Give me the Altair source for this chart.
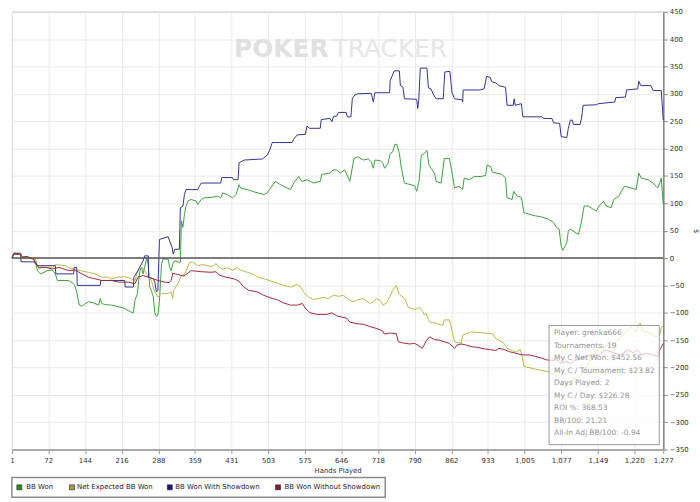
import altair as alt
import pandas as pd

# ---------------- data ----------------
x_ticks = [1, 72, 144, 216, 288, 359, 431, 503, 575, 646, 718, 790, 862, 933,
           1005, 1077, 1149, 1220, 1277]
y_ticks = list(range(-350, 451, 50))

series_names = ["BB Won", "Net Expected BB Won", "BB Won With Showdown",
                "BB Won Without Showdown"]
series_colors = ["#3f9f3f", "#b9b946", "#33338f", "#a3283f"]
legend_colors = ["#1f8f1f", "#a3a334", "#14147f", "#8b1a1a"]

green_hands = [1, 5, 18, 21, 31, 41, 47, 51, 57, 64, 70, 80, 86, 90, 112, 122, 124, 128, 133, 138,
               145, 151, 161, 171, 174, 177, 183, 196, 210, 222, 232, 239, 242, 247, 250, 252, 255,
               258, 261, 265, 268, 271, 274, 278, 281, 284, 287, 290, 292, 294, 297, 307, 310, 313,
               316, 320, 329, 331, 333, 336, 339, 342, 346, 352, 362, 365, 372, 378, 394, 404, 410,
               414, 423, 433, 440, 446, 449, 462, 475, 495, 501, 508, 517, 527, 540, 547, 553, 563,
               569, 579, 592, 605, 608, 624, 630, 637, 644, 653, 663, 667, 671, 679, 689, 699, 705,
               709, 712, 722, 728, 731, 738, 742, 747, 751, 755, 760, 764, 770, 790, 794, 799, 803,
               809, 814, 818, 822, 829, 832, 842, 848, 858, 864, 868, 877, 884, 887, 897, 907, 920,
               929, 932, 939, 942, 961, 968, 971, 981, 984, 991, 999, 1004, 1014, 1027, 1039, 1052,
               1062, 1068, 1073, 1077, 1080, 1088, 1091, 1095, 1104, 1111, 1117, 1122, 1130, 1140,
               1146, 1151, 1155, 1160, 1165, 1175, 1180, 1190, 1195, 1201, 1215, 1224, 1229, 1234,
               1247, 1257, 1263, 1266, 1270, 1273, 1277]
green_vals = [0, 9, 9, 1, 2, 0, -7, -23, -29, -26, -23, -22, -29, -41, -41, -47, -50, -62, -86, -88,
              -83, -80, -82, -86, -74, -83, -85, -86, -89, -92, -98, -100, -77, -65, -35, -23, -17,
              -29, -17, 1, -11, -53, -59, -71, -101, -107, -104, -77, -47, -11, -2, -2, -17, -23,
              -11, -5, -8, -8, 68, 56, 80, 95, 104, 107, 104, 98, 107, 110, 111, 113, 110,
              119, 116, 110, 116, 134, 128, 125, 121, 116, 119, 128, 140, 134, 128, 125, 137, 149,
              140, 143, 137, 140, 153, 155, 161, 161, 155, 161, 140, 161, 182, 185, 179, 181, 176,
              164, 179, 178, 173, 164, 173, 191, 194, 207, 208, 191, 164, 137, 132, 122, 143, 188,
              191, 197, 170, 164, 155, 140, 137, 182, 182, 152, 128, 131, 125, 146, 143, 149, 149,
              151, 170, 167, 157, 153, 146, 110, 107, 122, 113, 111, 83, 80, 77, 75, 71,
              65, 56, 53, 22, 14, 28, 49, 53, 47, 43, 68, 95, 95, 89,
              86, 95, 98, 104, 95, 92, 107, 113, 122, 131, 128, 125, 155, 146,
              143, 137, 131, 128, 137, 146, 98]

yellow_hands = [1, 5, 18, 21, 47, 51, 54, 60, 80, 86, 106, 112, 122, 135, 151, 164, 177, 190, 196,
                210, 222, 235, 242, 248, 255, 261, 268, 274, 281, 287, 294, 307, 313, 316, 318, 326,
                333, 339, 346, 349, 355, 365, 375, 385, 394, 401, 407, 414, 423, 433, 443, 449, 462,
                475, 482, 495, 508, 521, 534, 547, 560, 566, 572, 582, 592, 602, 611, 621, 631, 641,
                650, 663, 670, 679, 689, 702, 709, 715, 722, 728, 735, 741, 747, 754, 759, 767, 772,
                777, 783, 793, 799, 803, 806, 809, 812, 816, 819, 832, 845, 848, 858, 861, 864, 868,
                881, 884, 900, 936, 942, 949, 955, 965, 971, 981, 988, 997, 1000, 1004, 1026, 1052,
                1065, 1072, 1078, 1091, 1101, 1114, 1124, 1130, 1140, 1146, 1156, 1169, 1182, 1195,
                1205, 1214, 1224, 1228, 1232, 1236, 1253, 1263, 1270, 1273, 1277]
yellow_vals = [0, 7, 7, 0, -2, -14, -20, -17, -17, -12, -14, -17, -20, -23, -26, -29, -35, -35, -38,
               -35, -34, -38, -41, -23, -17, -22, -35, -41, -62, -71, -65, -65, -62, -74, -59, -47,
               -32, -30, -15, -8, -7, -14, -12, -14, -16, -10, -17, -20, -18, -22, -18, -22, -26,
               -30, -35, -38, -42, -46, -50, -53, -48, -52, -62, -71, -76, -74, -72, -74, -68, -70,
               -68, -77, -80, -76, -74, -83, -80, -74, -77, -86, -82, -71, -59, -50, -65, -71, -77,
               -89, -92, -94, -90, -95, -98, -104, -101, -110, -117, -119, -123, -113, -113, -123,
               -137, -153, -156, -141, -135, -138, -138, -147, -150, -156, -165, -169, -172, -167,
               -177, -198, -203, -208, -213, -225, -234, -231, -222, -216, -207, -192, -177, -168,
               -163, -159, -156, -144, -135, -126, -135, -122, -119, -133, -138, -144, -140, -128,
               -123]

blue_hands = [1, 5, 18, 19, 47, 51, 86, 87, 122, 123, 128, 129, 174, 175, 222, 223, 239, 240, 248,
              258, 261, 268, 269, 278, 281, 284, 287, 290, 307, 310, 315, 317, 320, 329, 331, 336,
              339, 342, 365, 368, 372, 410, 412, 433, 435, 444, 446, 456, 492, 501, 506, 511, 550,
              553, 560, 576, 579, 584, 605, 607, 624, 628, 631, 637, 641, 656, 658, 665, 668, 673,
              679, 705, 709, 712, 741, 742, 750, 760, 762, 767, 770, 794, 796, 798, 801, 814, 817,
              822, 826, 832, 846, 849, 859, 863, 868, 883, 884, 885, 917, 926, 931, 938, 941, 949,
              955, 968, 971, 983, 985, 987, 999, 1002, 1039, 1043, 1059, 1062, 1074, 1077, 1088,
              1091, 1095, 1099, 1101, 1114, 1117, 1120, 1146, 1150, 1182, 1184, 1203, 1205, 1227,
              1229, 1233, 1253, 1257, 1273, 1277]
blue_vals = [0, 9, 7, -7, -7, -14, -14, -29, -29, -17, -17, -50, -50, -41, -41, -53, -53, -35, -23,
             -5, 4, 4, -35, -38, -44, -62, -59, 34, 39, 31, 19, 7, 16, 16, 92, 95,
             116, 125, 125, 131, 137, 137, 147, 147, 143, 143, 174, 179, 181, 188, 197, 211, 211,
             217, 225, 226, 241, 237, 237, 253, 255, 249, 259, 259, 266, 266, 258, 258, 292, 298,
             300, 301, 285, 302, 302, 324, 342, 342, 315, 312, 291, 290, 273, 288, 347, 347, 311,
             309, 300, 291, 291, 340, 341, 303, 291, 289, 285, 307, 307, 309, 332, 330, 322, 320,
             315, 312, 279, 279, 291, 279, 282, 258, 258, 255, 255, 247, 246, 222, 220,
             237, 252, 252, 244, 244, 256, 279, 280, 282, 285, 293, 294, 307, 309,
             323, 315, 315, 306, 306, 252]

red_hands = [1, 5, 18, 21, 31, 37, 44, 47, 54, 67, 80, 93, 112, 125, 138, 151, 164, 177, 196, 210,
             229, 242, 248, 258, 268, 278, 287, 300, 309, 313, 316, 326, 338, 352, 372, 391, 401,
             407, 420, 436, 445, 455, 465, 482, 494, 511, 521, 533, 547, 560, 570, 576, 585, 599,
             618, 628, 638, 657, 663, 677, 689, 702, 716, 727, 731, 741, 754, 758, 766, 780, 790,
             796, 805, 813, 819, 829, 838, 848, 858, 868, 873, 881, 891, 901, 912, 926, 936, 949,
             955, 965, 975, 988, 1000, 1014, 1027, 1039, 1048, 1058, 1068, 1078, 1087, 1095, 1101,
             1111, 1124, 1130, 1140, 1150, 1163, 1183, 1192, 1198, 1208, 1218, 1227, 1231, 1237,
             1242, 1256, 1266, 1270, 1272, 1277]
red_vals = [0, 7, 7, 2, 3, 0, -2, -11, -17, -17, -20, -17, -23, -22, -29, -35, -38, -41, -41, -44,
            -44, -47, -35, -32, -35, -38, -41, -44, -45, -41, -28, -30, -33, -23, -25, -26, -25,
            -31, -35, -38, -42, -53, -59, -62, -68, -74, -76, -82, -86, -86, -83, -92, -100, -103,
            -103, -100, -106, -110, -117, -120, -121, -125, -129, -133, -139, -137, -138, -153,
            -155, -157, -156, -159, -165, -151, -144, -149, -150, -153, -156, -165, -159, -157,
            -159, -162, -163, -166, -167, -169, -165, -167, -171, -174, -177, -177, -180, -183,
            -186, -187, -186, -192, -189, -193, -189, -185, -181, -177, -180, -177, -168, -174,
            -177, -174, -168, -173, -168, -173, -177, -174, -177, -180, -168, -165, -156]

info_lines = ["Player: grenka666", "Tournaments: 19", "My C Net Won: $452.56",
              "My C / Tournament: $23.82", "Days Played: 2", "My C / Day: $226.28",
              "ROI %: 368.53", "BB/100: 21.21", "All-In Adj BB/100: -0.94"]

# ---------------- build tables ----------------
rows = []
for name, hs, vs in [(series_names[0], green_hands, green_vals),
                     (series_names[1], yellow_hands, yellow_vals),
                     (series_names[2], blue_hands, blue_vals),
                     (series_names[3], red_hands, red_vals)]:
    for i, (h, v) in enumerate(zip(hs, vs)):
        rows.append({"series": name, "hand": h, "value": v, "idx": i})
df = pd.DataFrame(rows)
zero_df = pd.DataFrame({"hand": [1], "value": [0]})

FONT = "DejaVu Sans"
W, H = 656, 441

x_scale = alt.Scale(domain=[1, 1277], nice=False, zero=False)
y_scale = alt.Scale(domain=[-350, 450], nice=False, zero=False)

x_axis = alt.Axis(values=x_ticks, format=",d", title="Hands Played",
                  grid=True, gridColor="#e9e9e9", domainColor="#999999",
                  domainWidth=1.5, tickColor="#999999", tickSize=4,
                  labelFont=FONT, labelFontSize=7, labelColor="#333333",
                  labelPadding=3, labelOverlap=False, labelFlush=False,
                  titleFont=FONT, titleFontSize=7,
                  titleFontWeight="normal", titleColor="#333333",
                  titlePadding=3)
y_axis = alt.Axis(orient="right", values=y_ticks, title="$", grid=True,
                  gridColor="#e9e9e9", domainColor="#888888", domainWidth=1.5,
                  tickColor="#888888", tickSize=4, labelFont=FONT,
                  labelFontSize=7, labelColor="#333333", labelPadding=2,
                  labelOverlap=False,
                  titleFont=FONT, titleFontSize=7, titleFontWeight="normal",
                  titleColor="#333333", titleAngle=90, titlePadding=4)

x_enc = alt.X("hand:Q", scale=x_scale, axis=x_axis)
y_enc = alt.Y("value:Q", scale=y_scale, axis=y_axis)

lines = alt.Chart(df).mark_line(strokeWidth=1).encode(
    x=x_enc, y=y_enc,
    stroke=alt.Stroke("series:N",
                      scale=alt.Scale(domain=series_names, range=series_colors),
                      legend=None),
    detail="series:N",
    order="idx:Q")

zero = alt.Chart(zero_df).mark_rule(color="#555555", strokeWidth=1.5).encode(y=y_enc)

# watermark
wm_left = alt.Chart(pd.DataFrame({"t": ["POKER"]})).mark_text(
    font=FONT, fontSize=25, fontWeight="bold", color="#e0e0e0", align="right",
    baseline="alphabetic").encode(x=alt.value(319), y=alt.value(46), text="t:N")
wm_right = alt.Chart(pd.DataFrame({"t": ["TRACKER"]})).mark_text(
    font=FONT, fontSize=25, color="#e6e6e6", align="left",
    baseline="alphabetic").encode(x=alt.value(323), y=alt.value(46), text="t:N")

# info box
box = alt.Chart(pd.DataFrame({"b": [1]})).mark_rect(
    fill="white", fillOpacity=0.7, stroke="#999999", strokeWidth=1).encode(
    x=alt.value(541), x2=alt.value(652), y=alt.value(316), y2=alt.value(436))
info = alt.Chart(pd.DataFrame({"t": ["\n".join(info_lines)]})).mark_text(
    font=FONT, fontSize=7.5, color="#949494", align="left", baseline="middle",
    lineBreak="\n", lineHeight=12.6).encode(
    x=alt.value(546), y=alt.value(324), text="t:N")

# legend (boxed row under the axis title)
legend_layers = [alt.Chart(pd.DataFrame({"b": [1]})).mark_rect(
    fill="white", stroke="#8c8c8c", strokeWidth=1.5).encode(
    x=alt.value(0), x2=alt.value(376), y=alt.value(469), y2=alt.value(489))]
swatch_x = [7.5, 60.5, 159, 268]
label_x = [14.5, 65.5, 164.5, 274.5]
for i, name in enumerate(series_names):
    item = pd.DataFrame({"name": [name]})
    legend_layers.append(alt.Chart(item).mark_square(
        size=25, fill=legend_colors[i], stroke="#333333", strokeWidth=0.7, opacity=1).encode(
        x=alt.value(swatch_x[i]), y=alt.value(479)))
    legend_layers.append(alt.Chart(item).mark_text(
        font=FONT, fontSize=7, color="#222222", align="left", baseline="middle").encode(
        x=alt.value(label_x[i]), y=alt.value(479), text="name:N"))

chart = alt.layer(lines, zero, wm_left, wm_right, box, info, *legend_layers).properties(
    width=W, height=H,
    padding={"left": 9, "top": 6, "right": 0, "bottom": 6},
    background="white",
).configure_view(stroke="#999999", strokeWidth=1)

chart.save("out.html", embed_options={"renderer": "svg", "actions": False})
